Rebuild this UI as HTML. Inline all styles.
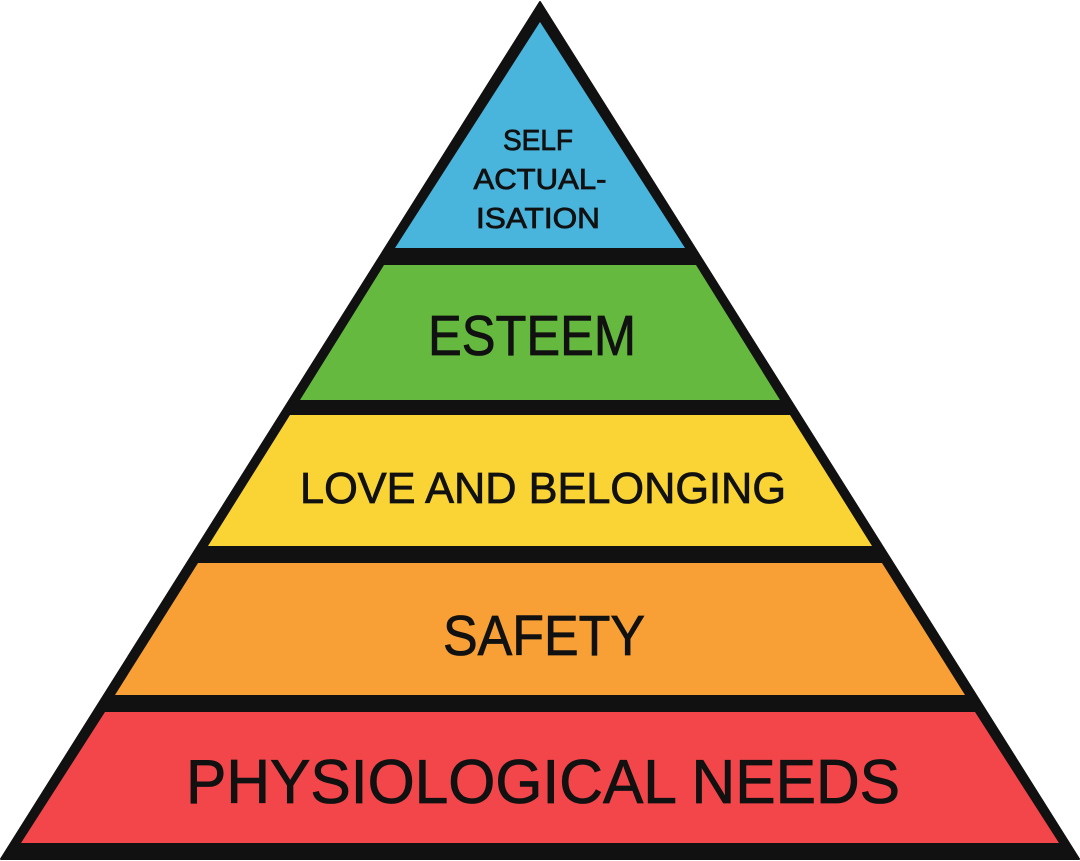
<!DOCTYPE html>
<html><head><meta charset="utf-8"><style>
html,body{margin:0;padding:0;background:#fff;width:1080px;height:861px;overflow:hidden}
text{font-family:"Liberation Sans",sans-serif;fill:#111;stroke:#111;stroke-width:0.8;text-anchor:middle}
</style></head><body>
<svg width="1080" height="861" viewBox="0 0 1080 861">
<polygon points="540,2 1079,859 1,859" fill="#111" stroke="#111" stroke-width="2" stroke-linejoin="round"/>
<polygon points="540,22 685,248 395,248" fill="#4ab5dc"/>
<polygon points="384,265 696,265 780,400 300,400" fill="#65b93e"/>
<polygon points="290,415 790,415 872,546 208,546" fill="#f9d434"/>
<polygon points="198,563 882,563 965,695 115,695" fill="#f8a035"/>
<polygon points="105,712 975,712 1059,843 21,843" fill="#f2464a"/>
<text x="538" y="150" font-size="29" textLength="70" lengthAdjust="spacingAndGlyphs">SELF</text>
<text x="540" y="189" font-size="29" textLength="133" lengthAdjust="spacingAndGlyphs">ACTUAL-</text>
<text x="538" y="228" font-size="29" textLength="124" lengthAdjust="spacingAndGlyphs">ISATION</text>
<text x="532" y="355" font-size="57" textLength="208" lengthAdjust="spacingAndGlyphs">ESTEEM</text>
<text x="543" y="503" font-size="44" textLength="486" lengthAdjust="spacingAndGlyphs">LOVE AND BELONGING</text>
<text x="544" y="655" font-size="57" textLength="202" lengthAdjust="spacingAndGlyphs">SAFETY</text>
<text x="543" y="803" font-size="62" textLength="714" lengthAdjust="spacingAndGlyphs">PHYSIOLOGICAL NEEDS</text>
</svg>
</body></html>
